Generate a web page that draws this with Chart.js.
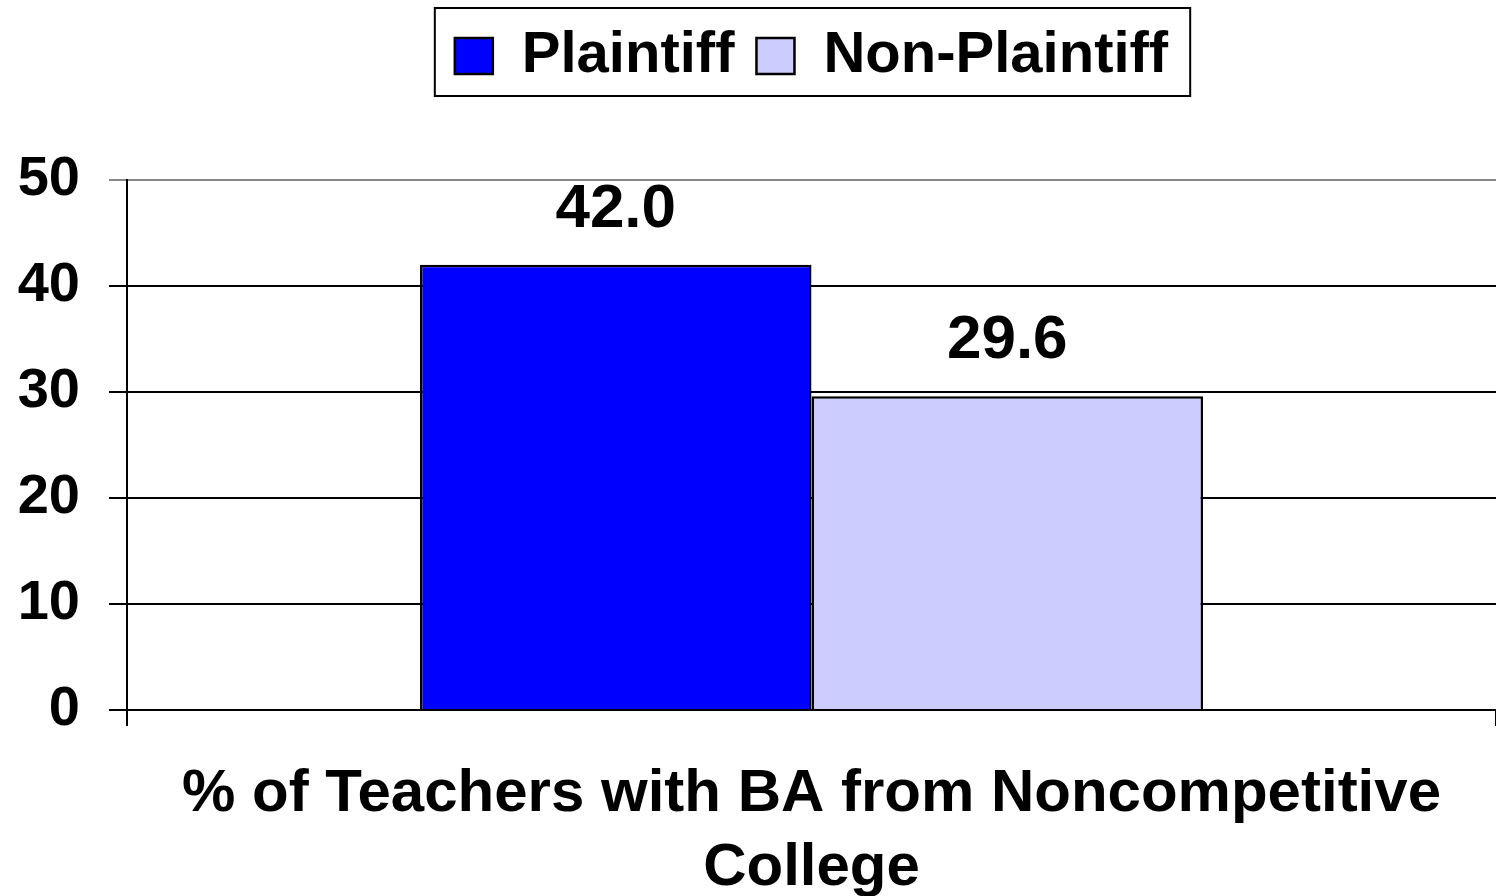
<!DOCTYPE html>
<html>
<head>
<meta charset="utf-8">
<script src="https://cdn.jsdelivr.net/npm/chart.js@4/dist/chart.umd.min.js"></script>
<style>
  html, body { margin: 0; padding: 0; background: #fff; }
  #wrap { width: 1496px; height: 896px; }
</style>
</head>
<body>
<div id="wrap"><canvas id="chart" width="1496" height="896"></canvas></div>
<script>
// data
var categories = [['% of Teachers with BA from Noncompetitive', 'College']];
var seriesNames = ['Plaintiff', 'Non-Plaintiff'];
var plaintiffValues = [42.0];
var nonPlaintiffValues = [29.6];
var yTicks = [0, 10, 20, 30, 40, 50];

var colors = {
    plaintiff: '#0000FF',
    nonPlaintiff: '#CCCCFF'
};

var fontFamily = "'Liberation Sans', Arial, Helvetica, sans-serif";

// push the plot down below the legend
var legendSpacer = {
    id: 'legendSpacer',
    beforeInit: function(chart) {
        var fit = chart.legend.fit;
        chart.legend.fit = function() {
            fit.bind(chart.legend)();
            this.height += 85;
        };
    }
};

// box around the legend
var legendBorder = {
    id: 'legendBorder',
    afterDraw: function(chart) {
        var boxes = chart.legend.legendHitBoxes;
        if (!boxes || !boxes.length) return;
        var left = boxes[0].left, right = 0, top = boxes[0].top, bottom = 0;
        boxes.forEach(function(b) {
            left = Math.min(left, b.left);
            right = Math.max(right, b.left + b.width);
            top = Math.min(top, b.top);
            bottom = Math.max(bottom, b.top + b.height);
        });
        var mid = (top + bottom) / 2;
        var ctx = chart.ctx;
        ctx.save();
        ctx.strokeStyle = '#000';
        ctx.lineWidth = 2;
        ctx.strokeRect(left - 20, mid - 48, (right - left) + 42, 88);
        ctx.restore();
    }
};

// value labels over the bars
var valueLabels = {
    id: 'valueLabels',
    afterDatasetsDraw: function(chart) {
        var ctx = chart.ctx;
        ctx.save();
        ctx.font = 'bold 62px ' + fontFamily;
        ctx.fillStyle = '#000';
        ctx.textAlign = 'center';
        ctx.textBaseline = 'alphabetic';
        chart.data.datasets.forEach(function(ds, i) {
            var meta = chart.getDatasetMeta(i);
            meta.data.forEach(function(bar, j) {
                ctx.fillText(ds.data[j].toFixed(1), bar.x, bar.y - 38);
            });
        });
        ctx.restore();
    }
};

var ctx = document.getElementById('chart').getContext('2d');
var chart = new Chart(ctx, {
    type: 'bar',
    data: {
        labels: categories,
        datasets: [{
            label: seriesNames[0],
            data: plaintiffValues,
            backgroundColor: colors.plaintiff,
            borderColor: '#000',
            borderWidth: 2.5,
            borderSkipped: 'bottom'
        }, {
            label: seriesNames[1],
            data: nonPlaintiffValues,
            backgroundColor: colors.nonPlaintiff,
            borderColor: '#000',
            borderWidth: 2.5,
            borderSkipped: 'bottom'
        }]
    },
    options: {
        responsive: false,
        animation: false,
        layout: { padding: { top: 5, right: 0, left: 0, bottom: 0 } },
        datasets: {
            bar: { barPercentage: 1.0, categoryPercentage: 0.572 }
        },
        plugins: {
            legend: {
                position: 'top',
                fullSize: false,
                labels: {
                    color: '#000',
                    font: { family: fontFamily, size: 58, weight: 'bold' },
                    boxWidth: 38,
                    boxHeight: 36,
                    padding: 22
                }
            },
            tooltip: { enabled: false }
        },
        scales: {
            x: {
                afterFit: function(axis) { axis.height = 186; },
                grid: {
                    offset: true,
                    drawOnChartArea: false,
                    color: '#000',
                    lineWidth: 2,
                    tickLength: 16
                },
                border: { color: '#000', width: 2 },
                ticks: {
                    color: '#000',
                    font: { family: fontFamily, size: 60, weight: 'bold', lineHeight: 1.23 },
                    padding: 32,
                    maxRotation: 0
                }
            },
            y: {
                min: 0,
                max: 50,
                afterFit: function(axis) { axis.width = 127; },
                afterBuildTicks: function(axis) {
                    axis.ticks = yTicks.map(function(v) { return { value: v }; });
                },
                grid: {
                    color: function(c) { return c.tick && c.tick.value === 50 ? '#888' : '#000'; },
                    lineWidth: 2,
                    tickLength: 18
                },
                border: { color: '#000', width: 2 },
                ticks: {
                    color: '#000',
                    font: { family: fontFamily, size: 56, weight: 'bold' },
                    padding: 29
                }
            }
        }
    },
    plugins: [legendSpacer, legendBorder, valueLabels]
});
</script>
</body>
</html>
